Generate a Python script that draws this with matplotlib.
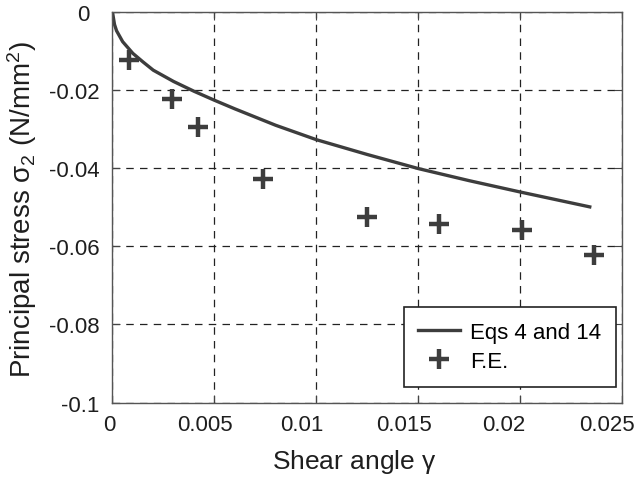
import matplotlib
matplotlib.use("Agg")
import matplotlib.pyplot as plt
from matplotlib.transforms import ScaledTranslation

plt.rcParams['font.family'] = ['Liberation Sans', 'DejaVu Sans']
plt.rcParams['mathtext.fontset'] = 'custom'
plt.rcParams['mathtext.rm'] = 'Liberation Sans'
plt.rcParams['mathtext.it'] = 'Liberation Sans'

# Eqs 4 and 14 curve
CURVE_X = [0, 0.0001, 0.0002, 0.0005, 0.001, 0.0015, 0.002, 0.003, 0.004,
           0.005, 0.006, 0.008, 0.01, 0.0125, 0.015, 0.0175, 0.02, 0.0234]
CURVE_Y = [0, -0.0032, -0.0048, -0.0076, -0.0106, -0.0128, -0.0149, -0.0178,
           -0.0203, -0.0226, -0.0248, -0.0290, -0.0327, -0.0365, -0.0401,
           -0.0432, -0.0461, -0.0499]

# F.E. results
FE_X = [0.00082, 0.0029, 0.0042, 0.0074, 0.0125, 0.0160, 0.0201, 0.0236]
FE_Y = [-0.0124, -0.0222, -0.0294, -0.0427, -0.0526, -0.0543, -0.0557, -0.0622]

X_TICKS = [0, 0.005, 0.01, 0.015, 0.02, 0.025]
X_LABELS = ['0', '0.005', '0.01', '0.015', '0.02', '0.025']
Y_TICKS = [-0.1, -0.08, -0.06, -0.04, -0.02, 0]
Y_LABELS = ['-0.1', '-0.08', '-0.06', '-0.04', '-0.02', '0']

DARK = '#3d3d3d'
TEXT = '#1e1e1e'

# tick label nudges in pixels, as the exported original has them
X_NUDGE = [-3, -10, -15, -14, -17, -15]
Y_NUDGE = [0, 0, 0, 0, 0, -10]


def nudge(labels, shifts, fig):
    for lab, d in zip(labels, shifts):
        off = ScaledTranslation(d / fig.dpi, 0, fig.dpi_scale_trans)
        lab.set_transform(lab.get_transform() + off)


def main():
    fig = plt.figure(figsize=(6.39, 4.81), dpi=100)
    ax = fig.add_axes([0.176, 0.161, 0.798, 0.812])

    ax.plot(CURVE_X, CURVE_Y, color=DARK, linewidth=2.4, label='Eqs 4 and 14')
    ax.plot(FE_X, FE_Y, linestyle='none', marker='+', markersize=14,
            markeredgewidth=3.2, color=DARK, label='F.E.')

    ax.set_xlim(0, 0.025)
    ax.set_ylim(-0.1, 0)
    ax.set_xticks(X_TICKS)
    ax.set_xticklabels(X_LABELS)
    ax.set_yticks(Y_TICKS)
    ax.set_yticklabels(Y_LABELS)
    ax.tick_params(direction='in', top=True, right=True, length=6,
                   labelsize=16, labelcolor=TEXT, color='#444444')
    ax.tick_params(axis='x', pad=8)
    ax.tick_params(axis='y', pad=9.5)
    nudge(ax.get_xticklabels(), X_NUDGE, fig)
    nudge(ax.get_yticklabels(), Y_NUDGE, fig)

    ax.grid(True, linestyle=(0, (6, 5)), color='#222222', linewidth=0.9)
    for s in ax.spines.values():
        s.set_color('#555555')
        s.set_linewidth(1.0)

    ax.set_xlabel('Shear angle $\\gamma$', fontsize=19, color=TEXT)
    ax.xaxis.set_label_coords(0.4745, -0.113)
    ax.set_ylabel('Principal stress $\\sigma_2$ (N/mm$^2$)', fontsize=20,
                  color=TEXT)
    ax.yaxis.set_label_coords(-0.144, 0.496)

    leg = ax.legend(loc='lower right', bbox_to_anchor=(0.987, 0.041),
                    borderaxespad=0, fontsize=16, frameon=True,
                    fancybox=False, edgecolor='#222222', framealpha=1,
                    handlelength=1.9, handletextpad=0.45,
                    borderpad=0.65, labelspacing=0.38)
    leg.get_frame().set_linewidth(1.2)

    fig.savefig('out.png', dpi=100)


if __name__ == "__main__":
    main()
